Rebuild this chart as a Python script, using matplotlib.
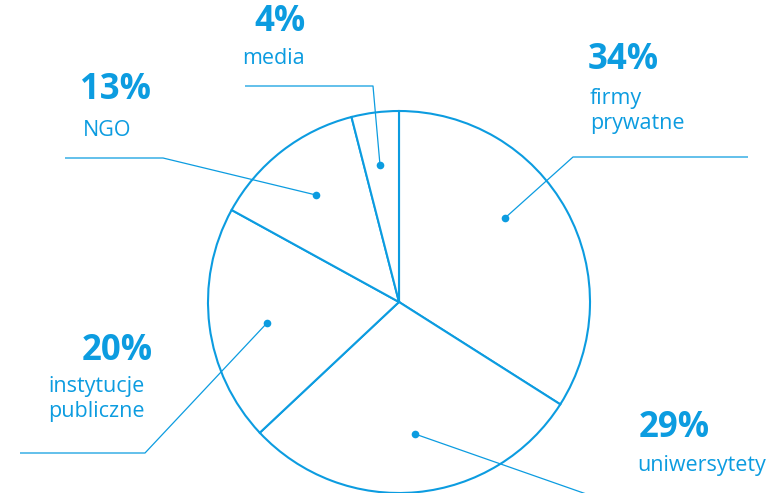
import matplotlib.pyplot as plt

plt.rcParams['font.family'] = ['Open Sans', 'DejaVu Sans']

# dane
labels = ['firmy\nprywatne', 'uniwersytety', 'instytucje\npubliczne', 'NGO', 'media']
values = [34, 29, 20, 13, 4]
pct_labels = [f'{v}%' for v in values]

BLUE = '#0c9ce0'
W, H = 776, 493

fig = plt.figure(figsize=(W / 100, H / 100), dpi=100)
ax = fig.add_axes([0, 0, 1, 1])

def py(y):
    # piksele liczone od góry
    return H - y

ax.pie(values, radius=191, center=(399, py(302)), startangle=90, counterclock=False,
       colors=['white'] * len(values),
       wedgeprops=dict(edgecolor=BLUE, linewidth=1.5))

ax.set_xlim(0, W)
ax.set_ylim(0, H)
ax.set_aspect('auto')
ax.axis('off')

# punkty i linie odniesienia (x, y w pikselach)
leaders = [
    [(505, 218), (573, 157), (748, 157)],
    [(415, 434), (592, 496)],
    [(267, 323), (145, 453), (20, 453)],
    [(316, 195), (163, 158), (65, 158)],
    [(380, 165), (373, 86), (245, 86)],
]
for pts in leaders:
    xs = [p[0] for p in pts]
    ys = [py(p[1]) for p in pts]
    ax.plot(xs, ys, color=BLUE, lw=0.9, solid_capstyle='butt')
    ax.plot(xs[0], ys[0], 'o', color=BLUE, ms=5.5, mec='none')

# pozycje tekstów: (x, y procentu), (x, y nazwy), wyrównanie
text_pos = [
    ((588, 60), (590, 111), 'left'),
    ((639, 428), (637, 466), 'left'),
    ((153, 351), (145, 399), 'right'),
    ((80, 90), (83, 130), 'left'),
    ((254, 22), (242, 58), 'left'),
]
for pct, lab, (p1, p2, ha) in zip(pct_labels, labels, text_pos):
    ax.text(p1[0], py(p1[1]), pct, color=BLUE, fontsize=25, fontweight='bold',
            ha=ha, va='center')
    ax.text(p2[0], py(p2[1]), lab, color=BLUE, fontsize=15.5, ha=ha, va='center',
            linespacing=1.2)

fig.savefig('out.png', dpi=100, facecolor='white')
